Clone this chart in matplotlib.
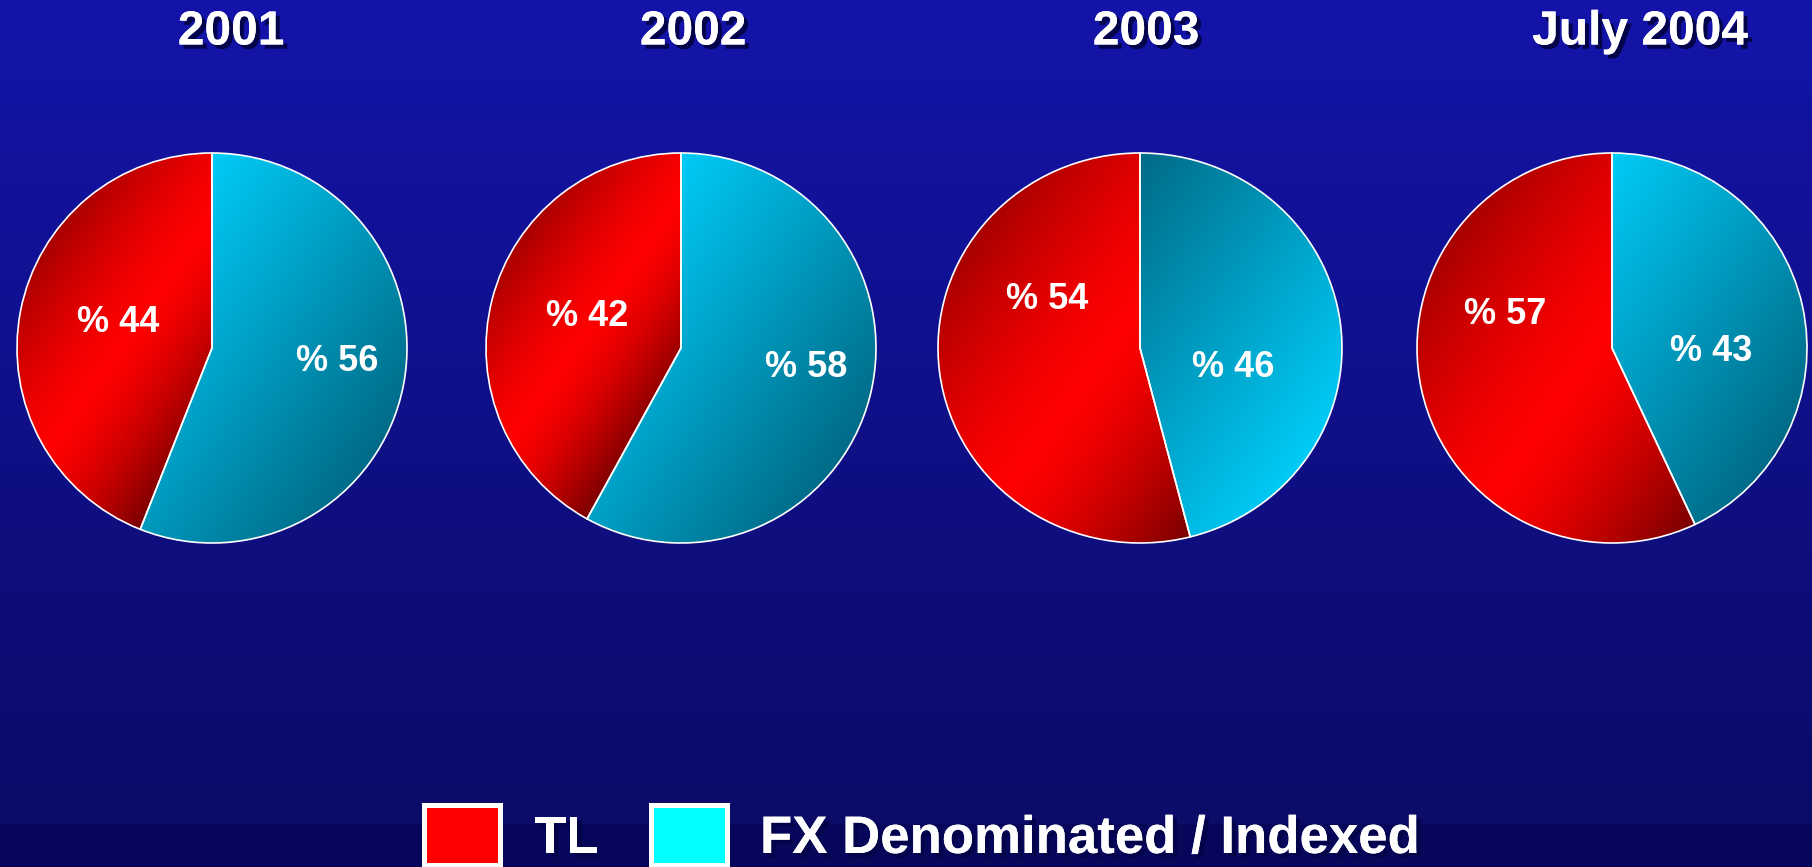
import numpy as np
import matplotlib
matplotlib.use('Agg')
import matplotlib.pyplot as plt
import matplotlib.patheffects as pe
from matplotlib.patches import Rectangle
from matplotlib.colors import to_rgb

# data
years = ['2001', '2002', '2003', 'July 2004']
tl_share = [44, 42, 54, 57]
fx_share = [56, 58, 46, 43]
legend_labels = ['TL', 'FX Denominated / Indexed']

W, H = 1812, 867
fig = plt.figure(figsize=(W / 100, H / 100), dpi=100)


def fx(px):
    return px / W


def fy(py):
    return 1 - py / H


# slide background: vertical blue gradient with a darker footer band
bg = fig.add_axes([0, 0, 1, 1], zorder=-10)
top, mid, band = np.array([20, 20, 170]), np.array([11, 11, 104]), np.array([6, 6, 90])
img = np.zeros((H, 1, 3))
for r in range(H):
    if r < 824:
        t = r / 824
        img[r, 0] = (top * (1 - t) + mid * t) / 255
    else:
        img[r, 0] = band / 255
bg.imshow(img, aspect='auto', extent=[0, 1, 0, 1], origin='upper')
bg.set_xlim(0, 1)
bg.set_ylim(0, 1)
bg.axis('off')

# layout (pixels / radius units)
pie_cx = [212, 681, 1140, 1612]
pie_cy = 348
pie_rx = [195, 195, 202, 195]
pie_ry = 195
title_x = [231, 693, 1146, 1640]
tl_lab_pos = [(-0.48, 0.13), (-0.48, 0.16), (-0.46, 0.25), (-0.55, 0.17)]
fx_lab_pos = [(0.64, -0.07), (0.64, -0.10), (0.46, -0.10), (0.51, -0.02)]
fx_flip = [False, False, True, False]

red_bright = np.array(to_rgb('#ff0000'))
red_dark1 = np.array(to_rgb('#a80000'))
red_dark2 = np.array(to_rgb('#7a0000'))
cy_light = np.array(to_rgb('#00cbf7'))
cy_dark = np.array(to_rgb('#006b88'))

shadow = [pe.withSimplePatchShadow(offset=(3, -3), shadow_rgbFace='#03034a', alpha=1.0), pe.Normal()]

n = 400
gx, gy = np.meshgrid(np.linspace(-1, 1, n), np.linspace(-1, 1, n))
ang = np.degrees(np.arctan2(gy, gx)) % 360
rad = np.hypot(gx, gy)
d = np.radians(-35)
proj = gx * np.cos(d) + gy * np.sin(d)

for i, year in enumerate(years):
    pad = 1.1
    ax = fig.add_axes([fx(pie_cx[i] - pad * pie_rx[i]), fy(pie_cy + pad * pie_ry),
                       2 * pad * pie_rx[i] / W, 2 * pad * pie_ry / H])
    wedges, _ = ax.pie([tl_share[i], fx_share[i]], startangle=90, counterclock=True,
                       radius=1, wedgeprops=dict(edgecolor='white', linewidth=1.2))
    ax.set_aspect('auto')
    for k, w in enumerate(wedges):
        span = (w.theta2 - w.theta1) % 360 or 360
        mask = (((ang - w.theta1) % 360) <= span) & (rad <= 1)
        tmin, tmax = proj[mask].min(), proj[mask].max()
        s = np.clip((proj - tmin) / (tmax - tmin), 0, 1)[..., None]
        if k == 0:
            m = np.abs(2 * s - 1) ** 1.4
            dark = np.where(s < 0.5, red_dark1, red_dark2)
            col = red_bright * (1 - m) + dark * m
        else:
            if fx_flip[i]:
                s = 1 - s
            col = cy_light * (1 - s) + cy_dark * s
        im = ax.imshow(col, extent=[-1, 1, -1, 1], origin='lower',
                       interpolation='bilinear', zorder=1, aspect='auto')
        im.set_clip_path(w)
        w.set_facecolor('none')
        w.set_zorder(2)
    ax.set_xlim(-pad, pad)
    ax.set_ylim(-pad, pad)
    ax.axis('off')

    ax.text(*tl_lab_pos[i], f'% {tl_share[i]}', ha='center', va='center', color='white',
            fontsize=26, fontweight='bold', family='Liberation Sans', zorder=5)
    ax.text(*fx_lab_pos[i], f'% {fx_share[i]}', ha='center', va='center', color='white',
            fontsize=26, fontweight='bold', family='Liberation Sans', zorder=5)

    fig.text(fx(title_x[i]), fy(32), year, ha='center', va='center', color='white',
             fontsize=34.5, fontweight='bold', family='Liberation Sans', path_effects=shadow)

# legend
box_x = [422, 649]
text_x = [534, 760]
box_colors = ['#ff0000', '#00ffff']
for bx, tx, c, lab in zip(box_x, text_x, box_colors, legend_labels):
    fig.patches.append(Rectangle((fx(bx), fy(869)), 81 / W, 66 / H, transform=fig.transFigure,
                                 facecolor='white', edgecolor='none', zorder=3))
    fig.patches.append(Rectangle((fx(bx + 5), fy(863)), 71 / W, 55 / H, transform=fig.transFigure,
                                 facecolor=c, edgecolor='none', zorder=4))
    fig.text(fx(tx), fy(853), lab, ha='left', va='baseline', color='white', fontsize=38,
             fontweight='bold', family='Liberation Sans', path_effects=shadow)

fig.savefig('out.png', dpi=100)
